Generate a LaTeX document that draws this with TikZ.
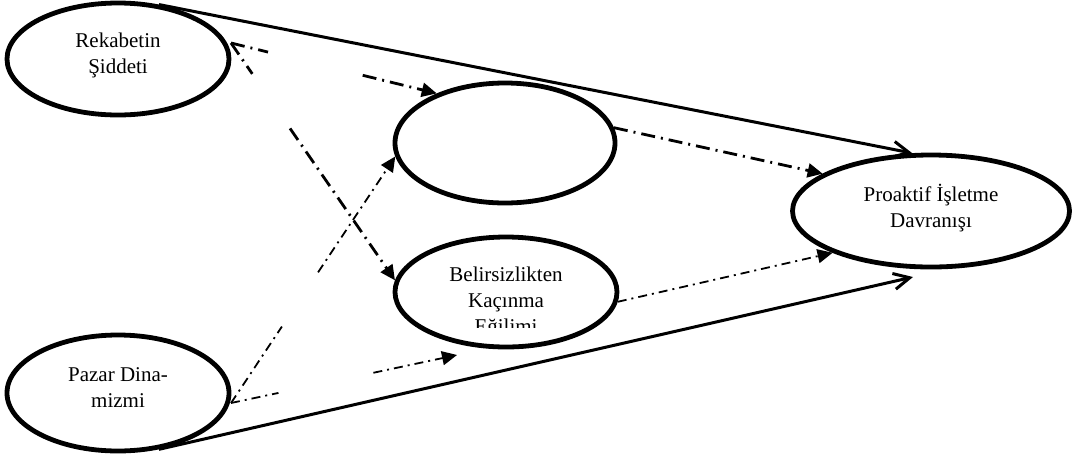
\documentclass[tikz,border=0pt]{standalone}
\usepackage{fontspec}
\setmainfont{Liberation Serif}
\usetikzlibrary{shapes.geometric,arrows.meta,calc}

\begin{document}
\begin{tikzpicture}[x=0.5pt, y=-0.5pt,
	oval/.style={draw, ellipse, line width=2.4pt, inner sep=0pt},
	lbl/.style={align=center, font=\fontsize{10.5}{13}\selectfont},
	solid arrow/.style={line width=1.5pt, -{Straight Barb[length=8pt,width=8pt]}},
	dd/.style={line width=1.4pt, dash pattern=on 7pt off 3pt on 1pt off 3pt},
	ddthin/.style={line width=0.9pt, dash pattern=on 4.5pt off 2.5pt on 1pt off 2.5pt},
	headed/.style={-{Triangle[length=7.5pt,width=7pt]}}]
	\useasboundingbox (0,0) rectangle (1074,456);
	% the five constructs
	\node[oval, minimum width=111pt, minimum height=56pt,
		label={[lbl, yshift=2pt]center:{Rekabetin\\Şiddeti}}] (rek) at (118,59) {};
	\node[oval, minimum width=111pt, minimum height=58pt,
		label={[lbl, yshift=2.5pt]center:{Pazar Dina-\\mizmi}}] (paz) at (118,393) {};
	\node[oval, minimum width=110pt, minimum height=60pt] (orta) at (505,143) {};
	\node[oval, minimum width=111pt, minimum height=55pt] (bel) at (506,292) {};
	\node[oval, minimum width=138.5pt, minimum height=56pt,
		label={[lbl, yshift=1.4pt]center:{Proaktif İşletme\\Davranışı}}] (pro) at (931,211) {};
	\begin{scope}
		\clip (395,240) rectangle (617,327);
		\node[lbl] (beltext) at (506,302) {Belirsizlikten\\Kaçınma\\Eğilimi};
	\end{scope}
	% loose ends
	\coordinate (rk) at (231,43);
	\coordinate (pz) at (231,403);
	\coordinate (pb) at (913,277);
	\coordinate (bb) at (457,355);
	% direct paths
	\draw[solid arrow] (rek.53) -- (pro.108);
	\draw[solid arrow] (paz.-54) -- (pb);
	% indirect paths, broken where they pass behind
	\draw[dd] (rk) -- ($(rk)!0.18!(orta.144)$);
	\draw[dd, headed] ($(rk)!0.64!(orta.144)$) -- (orta.144);
	\draw[dd] (rk) -- ($(rk)!0.13!(bel.174)$);
	\draw[dd, headed] ($(rk)!0.36!(bel.174)$) -- (bel.174);
	\draw[ddthin] (pz) -- ($(pz)!0.31!(orta.187)$);
	\draw[ddthin, headed] ($(pz)!0.53!(orta.187)$) -- (orta.187);
	\draw[ddthin] (pz) -- ($(pz)!0.21!(bb)$);
	\draw[ddthin, headed] ($(pz)!0.63!(bb)$) -- (bb);
	\draw[dd, headed] (orta.8) -- (pro.161);
	\draw[ddthin, headed] (bel.-5) -- (pro.-157);
\end{tikzpicture}
\end{document}
